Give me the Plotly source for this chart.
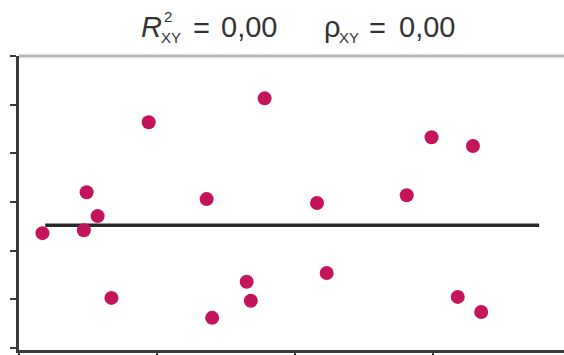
import numpy as np
import plotly.graph_objects as go

# Scatter sample (X, Y)
x_vals = [0.17, 0.47, 0.49, 0.57, 0.67, 0.94, 1.36, 1.40, 1.65, 1.68,
          1.78, 2.16, 2.23, 2.81, 2.99, 3.18, 3.29, 3.35]
y_vals = [2.36, 2.42, 3.20, 2.71, 1.03, 4.64, 3.06, 0.62, 1.36, 0.97,
          5.13, 2.98, 1.54, 3.14, 4.33, 1.05, 4.15, 0.74]

# Extent of the drawn regression line
fit_x = [0.19, 3.77]

x_ticks = [0, 1, 2, 3]
y_ticks = [0, 1, 2, 3, 4, 5, 6]

r2_text = "0,00"
rho_text = "0,00"

# With R^2 = 0 the least-squares line is flat at the mean of Y
y_mean = float(np.mean(y_vals))
fit_y = [y_mean, y_mean]

W, H = 564, 355
L, R, T, B = 19, 0, 56, 5
PW, PH = W - L - R, H - T - B


def px_x(p):
    return (p - L) / PW


def px_y(p):
    return (H - B - p) / PH


AXIS = "#3a3a3a"
TXT = "#333333"
FONT = "Liberation Sans, Arial, sans-serif"

fig = go.Figure()
fig.add_trace(go.Scatter(
    x=fit_x, y=fit_y, mode="lines",
    line=dict(color="#2a2a2a", width=3.5),
    hoverinfo="skip", showlegend=False,
))
fig.add_trace(go.Scatter(
    x=x_vals, y=y_vals, mode="markers",
    marker=dict(size=14, color="#C4145C"),
    showlegend=False,
))

axis_common = dict(
    showgrid=False, zeroline=False, showline=True,
    linecolor=AXIS, linewidth=3,
    ticks="outside", tickcolor=AXIS, tickwidth=2,
    showticklabels=False, fixedrange=True,
)

fig.update_layout(
    width=W, height=H,
    margin=dict(l=L, r=R, t=T, b=B),
    paper_bgcolor="white", plot_bgcolor="white",
    xaxis=dict(range=[0, 3.95], tickvals=x_ticks, ticklen=6, **axis_common),
    yaxis=dict(range=[-0.041, 6.0], tickvals=y_ticks, ticklen=6, **axis_common),
    shapes=[dict(type="line", xref="paper", yref="paper",
                 x0=0, x1=1, y0=1, y1=1,
                 line=dict(color="#b4b4b4", width=3))],
)

big = dict(family=FONT, size=29, color=TXT)
small = dict(family=FONT, size=15, color=TXT)

# Title pieces: text, left edge (px), vertical centre (px), font
pieces = [
    ("<i>R</i>", 140, 27, big),
    ("2", 163, 16, small),
    ("XY", 160, 38, small),
    ("=", 192, 28, big),
    (r2_text, 220, 27, big),
    ("ρ", 323, 27, big),
    ("XY", 338, 38, small),
    ("=", 368, 28, big),
    (rho_text, 398, 27, big),
]
for text, xp, yp, f in pieces:
    fig.add_annotation(
        text=text, xref="paper", yref="paper",
        x=px_x(xp), y=px_y(yp), xanchor="left", yanchor="middle",
        showarrow=False, font=f, borderpad=0,
    )

fig.write_html("out.html")
